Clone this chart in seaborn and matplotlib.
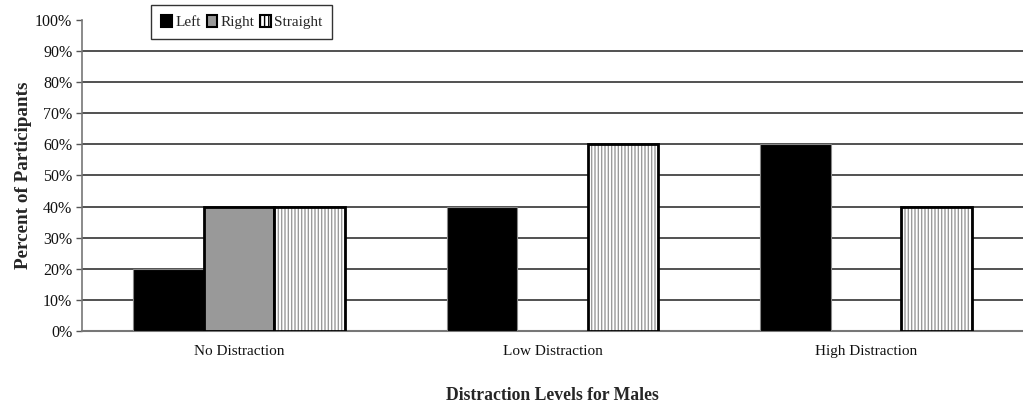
import matplotlib
matplotlib.use("Agg")
import matplotlib.pyplot as plt
from matplotlib.patches import Patch, Rectangle
import seaborn as sns
import pandas as pd

# values (percent of participants)
levels = ["No Distraction", "Low Distraction", "High Distraction"]
directions = ["Left", "Right", "Straight"]
left_pct = [20, 40, 60]
right_pct = [40, 0, 0]
straight_pct = [40, 60, 40]
y_ticks = list(range(0, 101, 10))

rows = []
for name, vals in zip(directions, [left_pct, right_pct, straight_pct]):
    for lvl, v in zip(levels, vals):
        rows.append({"level": lvl, "direction": name, "pct": v})
df = pd.DataFrame(rows)

sns.set_theme(style="white")
plt.rcParams["font.family"] = ["Liberation Serif", "DejaVu Serif"]

fig = plt.figure(figsize=(10.23, 4.07), dpi=100)
ax = fig.add_axes([0.0802, 0.1867, 0.9198, 0.7643])

palette = {"Left": "#000000", "Right": "#999999", "Straight": "#ffffff"}
sns.barplot(data=df, x="level", y="pct", hue="direction", order=levels,
            hue_order=directions, palette=palette, width=0.675,
            edgecolor="black", linewidth=2, saturation=1, ax=ax,
            legend=False, zorder=3)

# Left bars: gray thin edge like the original
for bar in ax.containers[0]:
    bar.set_edgecolor("#888888")
    bar.set_linewidth(0.8)

# Straight bars: gray vertical stripes with a black outline on top
for bar in ax.containers[2]:
    bar.set_edgecolor("#9a9a9a")
    bar.set_hatch("|||||")
    bar.set_linewidth(0)
    ax.add_patch(Rectangle(bar.get_xy(), bar.get_width(), bar.get_height(),
                           fill=False, edgecolor="black", linewidth=2, zorder=4))

# hide the empty bars
for cont in ax.containers:
    for bar in cont:
        if bar.get_height() == 0:
            bar.set_visible(False)

ax.set_ylim(0, 100)
ax.set_xlim(-0.5, 2.5)
ax.set_yticks(y_ticks)
ax.set_yticklabels([f"{t}%" for t in y_ticks], fontsize=11.5, color="#111111")
for t in y_ticks[1:-1]:
    ax.axhline(t, color="#222222", linewidth=1.1, zorder=1)

ax.tick_params(axis="y", length=4, width=1, color="#555555", pad=3, left=True)
ax.tick_params(axis="x", length=0, pad=10)
for lab in ax.get_xticklabels():
    lab.set_fontsize(11)
    lab.set_color("#111111")

for side in ["top", "right"]:
    ax.spines[side].set_visible(False)
ax.spines["left"].set_color("#777777")
ax.spines["bottom"].set_color("#777777")
ax.spines["left"].set_linewidth(1.2)
ax.spines["bottom"].set_linewidth(1.5)

ax.set_xlabel("Distraction Levels for Males", fontsize=12.7, fontweight="bold", labelpad=21)
ax.set_ylabel("Percent of Participants", fontsize=13.8, fontweight="bold", labelpad=2)

handles = [
    Patch(facecolor="#000000", edgecolor="black", linewidth=1.5, label="Left"),
    Patch(facecolor="#999999", edgecolor="black", linewidth=1.5, label="Right"),
    Patch(facecolor="#ffffff", edgecolor="black", linewidth=1.5, hatch="||||", label="Straight"),
]
leg = fig.legend(handles=handles, loc="upper left", bbox_to_anchor=(0.148, 0.988),
                 ncol=3, fontsize=11, frameon=True, fancybox=False,
                 handlelength=0.7, handleheight=0.9, handletextpad=0.2,
                 columnspacing=0.4, borderpad=0.65, borderaxespad=0)
leg.get_frame().set_edgecolor("black")
leg.get_frame().set_linewidth(1)

fig.savefig("out.png", dpi=100)
